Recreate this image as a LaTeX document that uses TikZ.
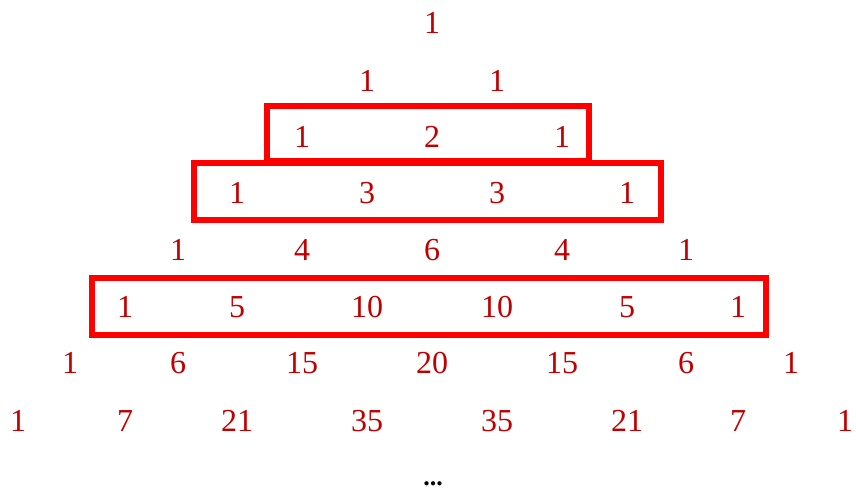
\documentclass[tikz,border=0pt]{standalone}
\usepackage{fontspec}
\setmainfont{Liberation Serif}
\definecolor{numred}{HTML}{C00000}
\definecolor{boxred}{HTML}{FF0000}
\begin{document}
\begin{tikzpicture}[x=1pt,y=-1pt,
  num/.style={anchor=base,text=numred,font=\fontsize{32}{36}\selectfont,inner sep=0pt},
  rowbox/.style={draw=boxred,line width=5.5pt}]
\useasboundingbox (0,0) rectangle (856,488);
\def\off{11.5}
% row 0
\node[num] (r0a) at (432,22+\off) {1};
% row 1
\node[num] (r1a) at (367,80+\off) {1};
\node[num] (r1b) at (497,80+\off) {1};
% row 2
\node[num] (r2a) at (302,136+\off) {1};
\node[num] (r2b) at (432,136+\off) {2};
\node[num] (r2c) at (562,136+\off) {1};
% row 3
\node[num] (r3a) at (237,192+\off) {1};
\node[num] (r3b) at (367,192+\off) {3};
\node[num] (r3c) at (497,192+\off) {3};
\node[num] (r3d) at (627,192+\off) {1};
% row 4
\node[num] (r4a) at (178,249+\off) {1};
\node[num] (r4b) at (302,249+\off) {4};
\node[num] (r4c) at (432,249+\off) {6};
\node[num] (r4d) at (562,249+\off) {4};
\node[num] (r4e) at (686,249+\off) {1};
% row 5
\node[num] (r5a) at (125,306+\off) {1};
\node[num] (r5b) at (237,306+\off) {5};
\node[num] (r5c) at (367,306+\off) {10};
\node[num] (r5d) at (497,306+\off) {10};
\node[num] (r5e) at (627,306+\off) {5};
\node[num] (r5f) at (738,306+\off) {1};
% row 6
\node[num] (r6a) at (70,362+\off) {1};
\node[num] (r6b) at (178,362+\off) {6};
\node[num] (r6c) at (302,362+\off) {15};
\node[num] (r6d) at (432,362+\off) {20};
\node[num] (r6e) at (562,362+\off) {15};
\node[num] (r6f) at (686,362+\off) {6};
\node[num] (r6g) at (791,362+\off) {1};
% row 7
\node[num] (r7a) at (18,420+\off) {1};
\node[num] (r7b) at (125,420+\off) {7};
\node[num] (r7c) at (237,420+\off) {21};
\node[num] (r7d) at (367,420+\off) {35};
\node[num] (r7e) at (497,420+\off) {35};
\node[num] (r7f) at (627,420+\off) {21};
\node[num] (r7g) at (738,420+\off) {7};
\node[num] (r7h) at (845,420+\off) {1};
% dots
\node[num,text=black,font=\fontsize{26}{30}\selectfont\bfseries] (dots) at (433,485) {...};
% boxes
\draw[rowbox] (267,106) rectangle (589,161);
\draw[rowbox] (194,163) rectangle (661,220);
\draw[rowbox] (92,278) rectangle (766,335);
\end{tikzpicture}
\end{document}
